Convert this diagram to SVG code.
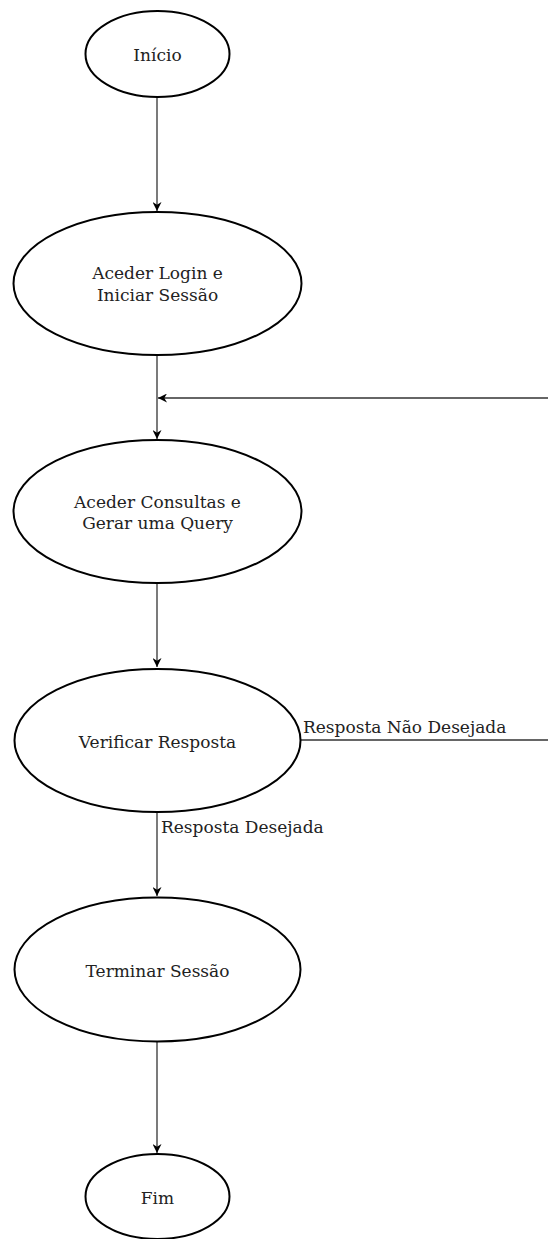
<svg xmlns="http://www.w3.org/2000/svg" width="548" height="1239" viewBox="0 0 548 1239">
<style>
.n{fill:#fff;stroke:#000;stroke-width:2}
.t{font-family:"DejaVu Serif",serif;font-size:17px;fill:#222;text-anchor:middle}
.l{font-family:"DejaVu Serif",serif;font-size:17px;fill:#222}
.c{fill:none;stroke:#333;stroke-width:1.3}
</style>
<defs>
<marker id="a" viewBox="0 0 10 10" refX="10" refY="5" markerWidth="10" markerHeight="9" markerUnits="userSpaceOnUse" orient="auto"><path d="M0,0 L10,5 L0,10 L3,5 z" fill="#000"/></marker>
</defs>
<g id="connectors">
<path class="c" d="M157,98 V211" marker-end="url(#a)"/>
<path class="c" d="M157,356 V439" marker-end="url(#a)"/>
<path class="c" d="M548,398 H158" marker-end="url(#a)"/>
<path class="c" d="M157,584 V667" marker-end="url(#a)"/>
<path class="c" d="M301,740 H548"/>
<path class="c" d="M157,813 V896" marker-end="url(#a)"/>
<path class="c" d="M157,1042 V1153" marker-end="url(#a)"/>
<text class="l" x="303" y="733">Resposta Não Desejada</text>
<text class="l" x="161" y="833">Resposta Desejada</text>
</g>
<g id="inicio"><ellipse class="n" cx="157.5" cy="54" rx="72" ry="43"/><text class="t" x="157.5" y="61">Início</text></g>
<g id="login"><ellipse class="n" cx="157.5" cy="283.5" rx="144" ry="71.5"/><text class="t" x="157.5" y="279">Aceder Login e</text><text class="t" x="157.5" y="300.5">Iniciar Sessão</text></g>
<g id="consultas"><ellipse class="n" cx="157.5" cy="511.5" rx="144" ry="71.5"/><text class="t" x="157.5" y="507.5">Aceder Consultas e</text><text class="t" x="157.5" y="529">Gerar uma Query</text></g>
<g id="verificar"><ellipse class="n" cx="157.5" cy="740.5" rx="143" ry="71.5"/><text class="t" x="157.5" y="747.5">Verificar Resposta</text></g>
<g id="terminar"><ellipse class="n" cx="157.5" cy="969.5" rx="143" ry="72"/><text class="t" x="157.5" y="976.5">Terminar Sessão</text></g>
<g id="fim"><ellipse class="n" cx="157.5" cy="1196.5" rx="72" ry="42.5"/><text class="t" x="157.5" y="1204">Fim</text></g>
</svg>
